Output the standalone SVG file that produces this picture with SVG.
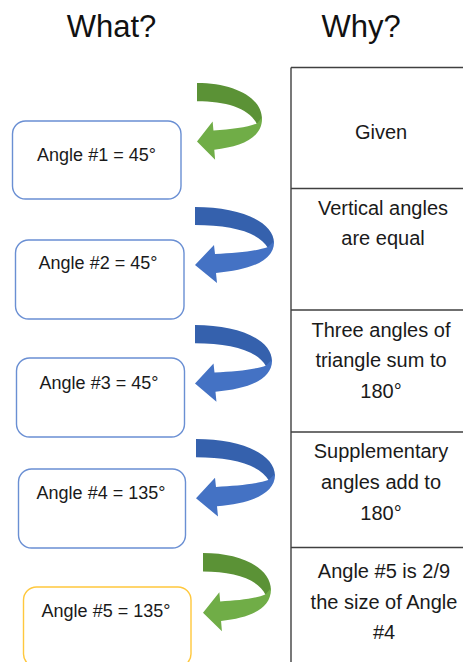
<svg xmlns="http://www.w3.org/2000/svg" xmlns:xlink="http://www.w3.org/1999/xlink" width="463" height="662" viewBox="0 0 463 662">
<style>
.bg{fill:#ffffff}
.hdr{font-family:"Liberation Sans",Arial,sans-serif;font-size:31px;fill:#111;text-anchor:middle}
.box{fill:#fff;stroke:#6a8fd3;stroke-width:1.4}
.boxy{fill:#fff;stroke:#ffc83d;stroke-width:1.4}
.lbl{font-family:"Liberation Sans",Arial,sans-serif;font-size:18px;fill:#1a1a1a;text-anchor:middle}
.cell{font-family:"Liberation Sans",Arial,sans-serif;font-size:20px;fill:#1a1a1a;text-anchor:middle}
.tl{stroke:#404040;stroke-width:1.4;fill:none}
.gb{fill:#5b9236}.gf{fill:#70ad47}
.bb{fill:#3561ad}.bf{fill:#4472c4}
</style>
<defs>
<path id="back" d="M0,0 C44,0 79,14 79,36 L73,41 C64,25 36,18 0,18 Z"/>
<path id="front" d="M79,34 C80,54 55,63 21,66 L22,76 L0,58 L19,38 L20,47 C42,46 62,44 73,40 Z"/>
</defs>
<rect class="bg" x="0" y="0" width="463" height="662"/>
<text class="hdr" x="111.5" y="37">What?</text>
<text class="hdr" x="361" y="37">Why?</text>

<g id="table">
<path class="tl" d="M291,67.5 H463 M291,67.5 V662 M291,188.5 H463 M291,310 H463 M291,432 H463 M291,547.5 H463"/>
<text class="cell" x="381" y="139">Given</text>
<text class="cell" x="383" y="215">Vertical angles</text>
<text class="cell" x="383" y="245">are equal</text>
<text class="cell" x="381" y="337">Three angles of</text>
<text class="cell" x="381" y="367">triangle sum to</text>
<text class="cell" x="381" y="398">180°</text>
<text class="cell" x="381" y="458">Supplementary</text>
<text class="cell" x="381" y="489">angles add to</text>
<text class="cell" x="381" y="520">180°</text>
<text class="cell" x="384" y="578">Angle #5 is 2/9</text>
<text class="cell" x="384" y="609">the size of Angle</text>
<text class="cell" x="384" y="639">#4</text>
</g>

<g id="connectors">
<g transform="translate(197,83) scale(0.823,1.01)"><use href="#back" class="gb"/><use href="#front" class="gf"/></g>
<g transform="translate(195,207)"><use href="#back" class="bb"/><use href="#front" class="bf"/></g>
<g transform="translate(195,325) scale(0.975,1.01)"><use href="#back" class="bb"/><use href="#front" class="bf"/></g>
<g transform="translate(196,439) scale(1.0,1.02)"><use href="#back" class="bb"/><use href="#front" class="bf"/></g>
<g transform="translate(203,553) scale(0.86,1.03)"><use href="#back" class="gb"/><use href="#front" class="gf"/></g>
</g>

<g id="n1"><rect class="box" x="12.5" y="121" width="168.5" height="78" rx="13"/><text class="lbl" x="96.5" y="161">Angle #1 = 45°</text></g>
<g id="n2"><rect class="box" x="15.5" y="240" width="168.5" height="79" rx="13"/><text class="lbl" x="98" y="269">Angle #2 = 45°</text></g>
<g id="n3"><rect class="box" x="16.5" y="358" width="168" height="79" rx="13"/><text class="lbl" x="99" y="389">Angle #3 = 45°</text></g>
<g id="n4"><rect class="box" x="18.5" y="469" width="167" height="79" rx="13"/><text class="lbl" x="101" y="499">Angle #4 = 135°</text></g>
<g id="n5"><rect class="boxy" x="23.5" y="587" width="167.5" height="80" rx="13"/><text class="lbl" x="106" y="617">Angle #5 = 135°</text></g>
</svg>
